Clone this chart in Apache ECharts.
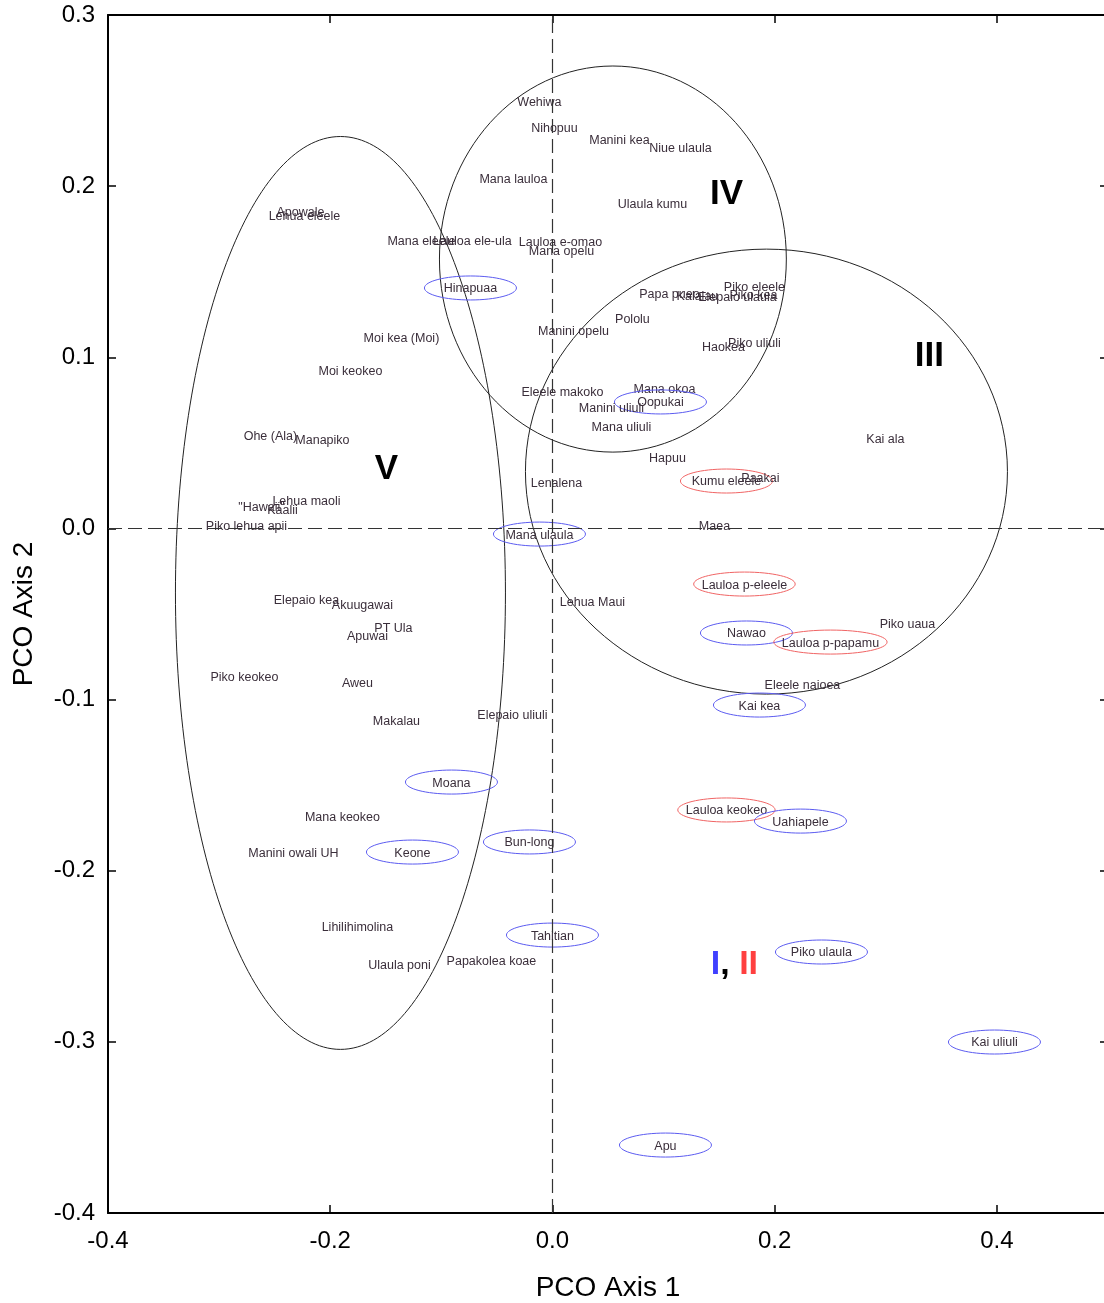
<!DOCTYPE html>
<html>
<head>
<meta charset="utf-8">
<script src="https://cdn.jsdelivr.net/npm/echarts@6/dist/echarts.min.js"></script>
<style>html,body{margin:0;padding:0;background:#fff}#c{width:1104px;height:1303px}</style>
</head>
<body>
<div id="c"></div>
<script>
// ---- data ----
const names = ["Wehiwa","Nihopuu","Manini kea","Niue ulaula","Mana lauloa","Ulaula kumu","Apowale","Lehua eleele","Mana eleele","Lauloa ele-ula","Lauloa e-omao","Mana opelu","Hinapuaa","Papa pueo","Kalalau","Elepaio ulaula","Piko kea","Piko eleele","Pololu","Manini opelu","Haokea","Piko uliuli","Moi kea (Moi)","Moi keokeo","Eleele makoko","Mana okoa","Oopukai","Manini uliuli","Mana uliuli","Hapuu","Kai ala","Ohe (Ala)","Manapiko","Lenalena","Kumu eleele","Paakai","\"Hawaii\"","Kaalii","Lehua maoli","Piko lehua apii","Mana ulaula","Maea","Lauloa p-eleele","Elepaio kea","Akuugawai","Lehua Maui","PT Ula","Apuwai","Piko uaua","Nawao","Lauloa p-papamu","Piko keokeo","Aweu","Eleele naioea","Kai kea","Makalau","Elepaio uliuli","Moana","Mana keokeo","Lauloa keokeo","Uahiapele","Bun-long","Manini owali UH","Keone","Lihilihimolina","Tahitian","Ulaula poni","Papakolea koae","Piko ulaula","Kai uliuli","Apu"];
const xs = [-0.0117,0.0018,0.0603,0.1152,-0.0351,0.0900,-0.2268,-0.2232,-0.1179,-0.0720,0.0072,0.0081,-0.0738,0.1053,0.1305,0.1665,0.1809,0.1818,0.0720,0.0189,0.1539,0.1818,-0.1359,-0.1818,0.0090,0.1008,0.0972,0.0531,0.0621,0.1035,0.2997,-0.2538,-0.2070,0.0036,0.1566,0.1872,-0.2619,-0.2430,-0.2214,-0.2754,-0.0117,0.1458,0.1728,-0.2214,-0.1710,0.0360,-0.1431,-0.1665,0.3195,0.1746,0.2502,-0.2772,-0.1755,0.2250,0.1863,-0.1404,-0.0360,-0.0909,-0.1890,0.1566,0.2232,-0.0207,-0.2331,-0.1260,-0.1755,0.0000,-0.1377,-0.0549,0.2421,0.3978,0.1017];
const ys = [0.2492,0.2345,0.2270,0.2223,0.2042,0.1901,0.1849,0.1831,0.1685,0.1685,0.1679,0.1621,0.1405,0.1375,0.1358,0.1352,0.1364,0.1416,0.1229,0.1159,0.1060,0.1089,0.1118,0.0920,0.0797,0.0820,0.0739,0.0709,0.0593,0.0417,0.0528,0.0540,0.0517,0.0271,0.0277,0.0300,0.0125,0.0113,0.0160,0.0014,-0.0033,0.0014,-0.0325,-0.0413,-0.0442,-0.0430,-0.0582,-0.0623,-0.0553,-0.0611,-0.0664,-0.0868,-0.0903,-0.0915,-0.1032,-0.1120,-0.1090,-0.1482,-0.1681,-0.1645,-0.1710,-0.1832,-0.1891,-0.1891,-0.2329,-0.2376,-0.2551,-0.2522,-0.2475,-0.3001,-0.3603];
// '' = no ring, 'I' = blue ring, 'II' = red ring
const groups = ["","","","","","","","","","","","","I","","","","","","","","","","","","","","I","","","","","","","","II","","","","","","I","","II","","","","","","","I","II","","","","I","","","I","","II","I","I","","I","","I","","","I","I","I"];
// cluster ellipses: centre x, centre y, radius x, radius y (data units)
const clusterCx = [-0.1908, 0.0544, 0.1926];
const clusterCy = [-0.0377, 0.1574, 0.0332];
const clusterRx = [0.1485, 0.1561, 0.2169];
const clusterRy = [0.2667, 0.1128, 0.1300];
// cluster labels
const clusterNames = ["IV","III","V","I, II"];
const clusterLx = [0.1566, 0.3393, -0.1494, 0.1638];
const clusterLy = [0.1960, 0.1013, 0.0353, -0.2540];
const xTicks = [-0.4,-0.2,0.0,0.2,0.4];
const yTicks = [-0.4,-0.3,-0.2,-0.1,0.0,0.1,0.2,0.3];

const FONT = 'Arial, "Liberation Sans", sans-serif';
const chart = echarts.init(document.getElementById('c'), null, {renderer:'canvas'});

const ptData = xs.map((x,i)=>[x, ys[i]]);
const ellData = clusterCx.map((c,i)=>[c, clusterCy[i], clusterRx[i], clusterRy[i]]);
const grpData = clusterLx.map((x,i)=>[x, clusterLy[i]]);

const axisCommon = {
  type:'value', splitLine:{show:false},
  axisLine:{show:true, onZero:false, lineStyle:{color:'#000', width:2}},
  axisTick:{show:true, inside:true, length:8, lineStyle:{color:'#000', width:1.5}}
};

const option = {
  animation:false,
  grid:{left:108, top:15, width:1000, height:1198, containLabel:false, outerBoundsMode:'none'},
  xAxis:[
    Object.assign({}, axisCommon, {
      min:-0.4, max:0.5, interval:0.2, position:'bottom',
      name:'PCO Axis 1', nameLocation:'middle', nameGap:61,
      nameTextStyle:{fontFamily:FONT, fontSize:28, color:'#000'},
      axisLabel:{show:true, showMaxLabel:false, margin:16, fontFamily:FONT, fontSize:24, color:'#000',
        formatter:v=>xTicks.some(t=>Math.abs(t-v)<1e-9)?v.toFixed(1):''}
    }),
    Object.assign({}, axisCommon, {
      min:-0.4, max:0.5, interval:0.2, position:'top', axisLabel:{show:false}
    })
  ],
  yAxis:[
    Object.assign({}, axisCommon, {
      min:-0.4, max:0.3, interval:0.1, position:'left',
      name:'PCO Axis 2', nameLocation:'middle', nameGap:70,
      nameTextStyle:{fontFamily:FONT, fontSize:28, color:'#000'},
      axisLabel:{show:true, margin:13, fontFamily:FONT, fontSize:24, color:'#000',
        formatter:v=>yTicks.some(t=>Math.abs(t-v)<1e-9)?v.toFixed(1):''}
    }),
    Object.assign({}, axisCommon, {
      min:-0.4, max:0.3, interval:0.1, position:'right', axisLabel:{show:false}
    })
  ],
  series:[
    {
      type:'custom', name:'clusters', xAxisIndex:0, yAxisIndex:0, silent:true,
      data:ellData, encode:{x:0, y:1},
      renderItem:function(params, api){
        const c = api.coord([api.value(0), api.value(1)]);
        const s = api.size([api.value(2), api.value(3)]);
        return {type:'ellipse', shape:{cx:c[0], cy:c[1], rx:s[0], ry:s[1]},
          style:{fill:'none', stroke:'#222', lineWidth:1}};
      },
      markLine:{
        silent:true, symbol:['none','none'], label:{show:false},
        lineStyle:{color:'#333', width:1.2, type:[14,6]},
        data:[{xAxis:0},{yAxis:0}]
      }
    },
    {
      type:'custom', name:'cultivars', xAxisIndex:0, yAxisIndex:0, silent:true,
      data:ptData, encode:{x:0, y:1},
      renderItem:function(params, api){
        const i = params.dataIndex;
        const p = api.coord([api.value(0), api.value(1)]);
        const children = [];
        const g = groups[i];
        if (g) {
          const w = echarts.format.getTextRect ? echarts.format.getTextRect(names[i], '12.5px ' + FONT).width : names[i].length * 6.5;
          const rx = Math.max(46, w / 2 + 8);
          children.push({type:'ellipse', shape:{cx:p[0], cy:p[1], rx:rx, ry:12},
            style:{fill:'none', stroke: g==='I' ? '#5b5bf0' : '#f06464', lineWidth:1}});
        }
        children.push({type:'text', x:p[0], y:p[1] + 1,
          style:{text:names[i], fill:'#3a2e3a', font:'12.5px ' + FONT, align:'center', verticalAlign:'middle'}});
        return {type:'group', children:children};
      }
    },
    {
      type:'custom', name:'clusterLabels', xAxisIndex:0, yAxisIndex:0, silent:true,
      data:grpData, encode:{x:0, y:1},
      renderItem:function(params, api){
        const i = params.dataIndex;
        const p = api.coord([api.value(0), api.value(1)]);
        const txt = clusterNames[i];
        let style;
        if (txt === 'I, II') {
          style = {text:'{a|I}{c|,} {b|II}', align:'center', verticalAlign:'middle',
            rich:{
              a:{fill:'#4040ff', font:'bold 34px ' + FONT},
              b:{fill:'#ff4040', font:'bold 34px ' + FONT},
              c:{fill:'#000', font:'bold 34px ' + FONT}
            }, font:'bold 34px ' + FONT};
        } else {
          style = {text:txt, fill:'#000', font:'bold 35px ' + FONT, align:'center', verticalAlign:'middle'};
        }
        return {type:'text', x:p[0], y:p[1] + 1, style:style};
      }
    }
  ]
};
chart.setOption(option);
</script>
</body>
</html>
